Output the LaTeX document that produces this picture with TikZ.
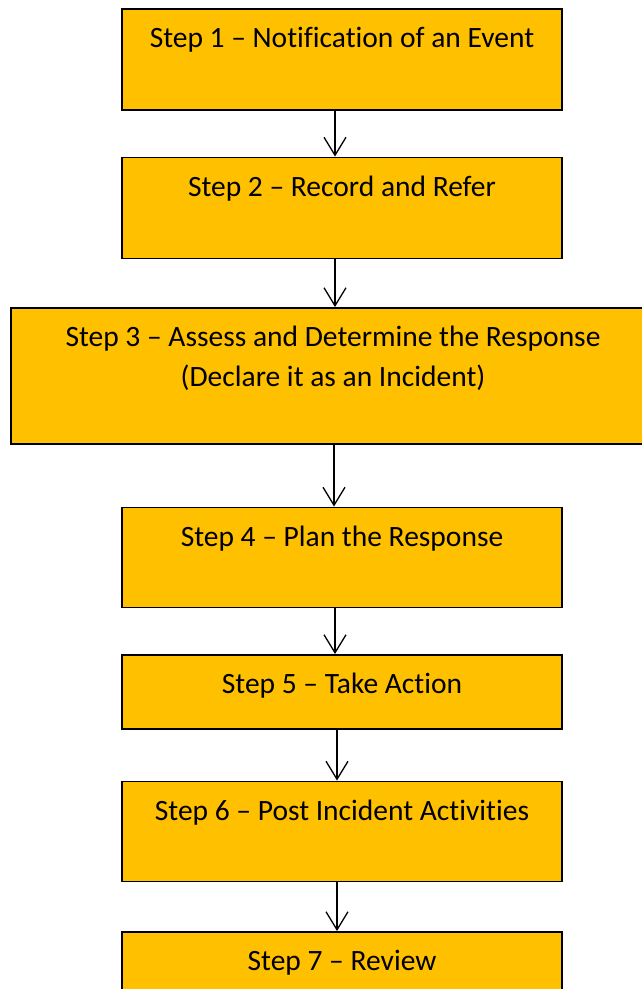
\documentclass[tikz,border=0pt]{standalone}
\usepackage{fontspec}
\setmainfont{Carlito}[Ligatures=NoCommon]
\usepackage{xcolor}
\usepackage{tikz}
\usetikzlibrary{arrows.meta, positioning}
\definecolor{stepgold}{HTML}{FFC000}

\begin{document}
\begin{tikzpicture}[x=1pt, y=-1pt]
    % Block styles
    \tikzstyle{stepbox} = [rectangle, draw, line width=1.5pt, fill=stepgold, text width=440pt, align=flush center, inner sep=0pt, text height=39pt, font=\fontsize{29.5}{40}\selectfont]
    \tikzstyle{flow} = [line width=1.3pt, -{Straight Barb[length=18pt, width=22pt]}]
    \useasboundingbox (0,0) rectangle (642,989);
    % Steps
    \node[stepbox, text depth=62pt, anchor=north] (notify) at (342,8) {Step 1 – Notification of an Event};
    \node[stepbox, text depth=62pt, below=46pt of notify] (record) {Step 2 – Record and Refer};
    \node[stepbox, text depth=97pt, text width=644pt, below=48pt of record, xshift=-9pt] (assess) {Step 3 – Assess and Determine the Response\\(Declare it as an Incident)};
    \node[stepbox, text depth=61pt, below=62pt of assess, xshift=9pt] (plan) {Step 4 – Plan the Response};
    \node[stepbox, text depth=35pt, below=46pt of plan] (action) {Step 5 – Take Action};
    \node[stepbox, text depth=61pt, below=51pt of action] (post) {Step 6 – Post Incident Activities};
    \node[stepbox, text depth=27pt, below=49pt of post] (review) {Step 7 – Review};
    % Connections
    \draw[flow] ([xshift=-7pt]notify.south) -- ([xshift=-7pt]record.north);
    \draw[flow] ([xshift=-7pt]record.south) -- ([xshift=2pt]assess.north);
    \draw[flow] ([xshift=1pt]assess.south) -- ([xshift=-8pt]plan.north);
    \draw[flow] ([xshift=-7pt]plan.south) -- ([xshift=-7pt]action.north);
    \draw[flow] ([xshift=-5pt]action.south) -- ([xshift=-5pt]post.north);
    \draw[flow] ([xshift=-5pt]post.south) -- ([xshift=-5pt]review.north);
\end{tikzpicture}
\end{document}
